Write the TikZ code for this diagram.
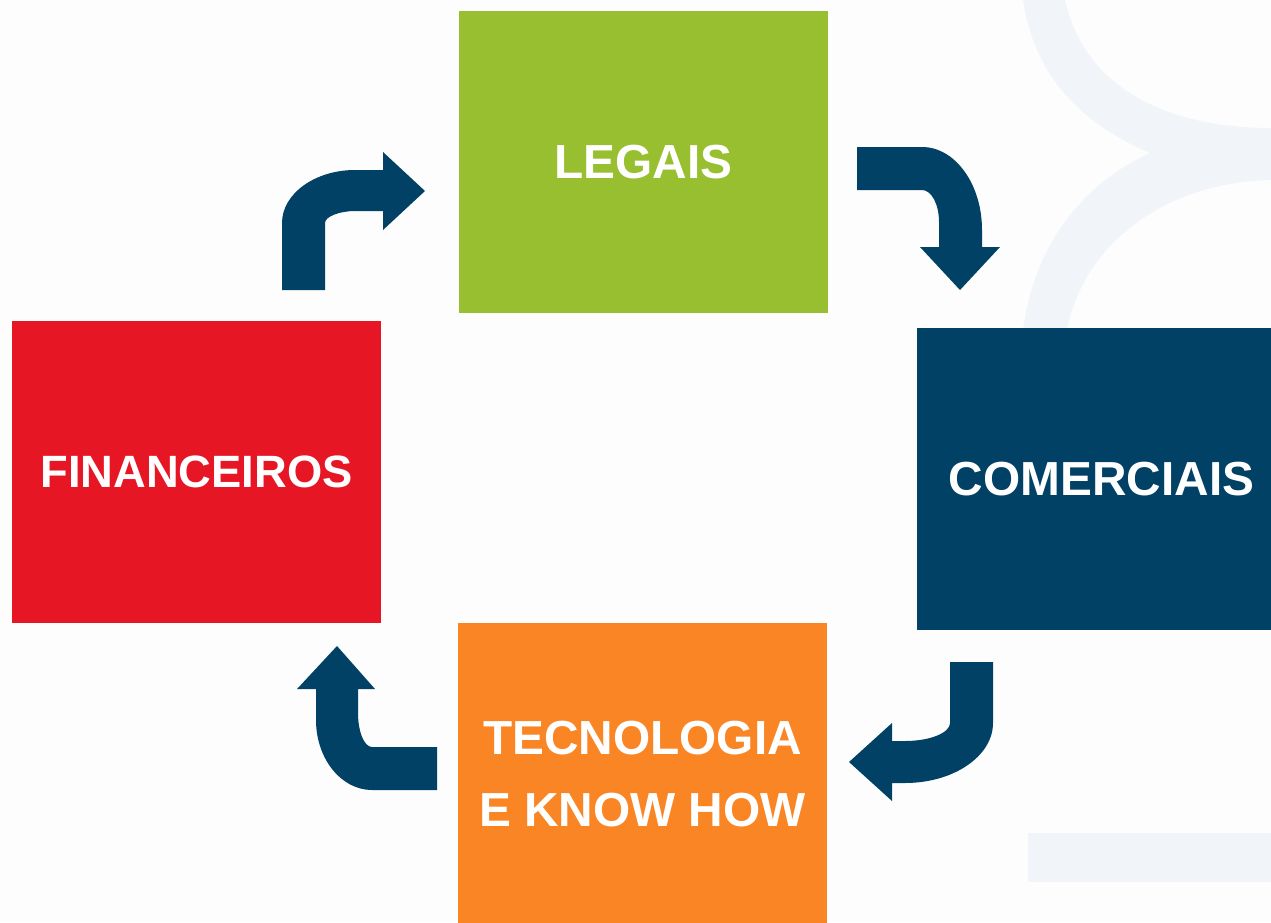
\documentclass[tikz,border=0pt]{standalone}
\usepackage{fontspec}
\setmainfont{Liberation Sans}
\definecolor{cgreen}{HTML}{97BF2F}
\definecolor{cred}{HTML}{E71624}
\definecolor{cnavy}{HTML}{004165}
\definecolor{corange}{HTML}{F98524}
\definecolor{cdecor}{HTML}{F1F5FA}
\definecolor{cbg}{HTML}{FDFDFD}
\tikzset{
  box/.style={rectangle, inner sep=0pt, minimum width=369pt, minimum height=302pt,
    text=white, font=\bfseries\fontsize{47.8}{72}\selectfont, align=center},
  blockarrow/.style={fill=cnavy, draw=none},
  decor/.style={fill=cdecor, draw=none}
}
\begin{document}
\begin{tikzpicture}[x=1pt,y=-1pt]
\useasboundingbox (0,0) rectangle (1271,922);
\clip (0,0) rectangle (1271,922);
\fill[cbg] (0,0) rectangle (1271,922);
% background decoration
\path[decor] (1023,0) -- (1065,0) .. controls (1085,90) and (1170,128) .. (1271,128)
  -- (1290,128) -- (1290,180) -- (1271,180)
  .. controls (1170,182) and (1080,240) .. (1065,340) -- (1022,340)
  .. controls (1030,250) and (1080,185) .. (1150,153)
  .. controls (1085,125) and (1035,80) .. (1023,0) -- cycle;
\path[decor] (1028,833) rectangle (1290,882);
% boxes
\node[box, fill=cgreen]  (legais) at (643.5,162) {LEGAIS};
\node[box, fill=cred, font=\bfseries\fontsize{45.3}{72}\selectfont] (fin) at (196.5,471.5) {FINANCEIROS};
\node[box, fill=cnavy]   (com) at (1101.5,479) {COMERCIAIS};
\node[box, fill=corange] (tec) at (642.5,774) {TECNOLOGIA\\E KNOW HOW};
% arrow financeiros -> legais
\path[blockarrow] (282,290) -- (282,223) .. controls (282,193.7) and (315,170) .. (355,170)
  -- (383,170) -- (383,152) -- (425,191) -- (383,230) -- (383,211) -- (355,211)
  .. controls (340,211) and (325,216.4) .. (325,223) -- (325,290) -- cycle;
% arrow legais -> comerciais
\path[blockarrow] (857,147) -- (922,147) .. controls (955,147) and (982,184) .. (982,230)
  -- (982,247) -- (1000,247) -- (960,290) -- (920,247) -- (939,247) -- (939,222)
  .. controls (939,204) and (931.4,190) .. (922,190) -- (857,190) -- cycle;
% arrow comerciais -> tecnologia
\path[blockarrow] (950,662) -- (993,662) -- (993,723) .. controls (993,756.1) and (953.6,783) .. (905,783)
  -- (892,783) -- (892,801) -- (849,762) -- (892,723) -- (892,741) -- (905,741)
  .. controls (929.8,741) and (950,732.9) .. (950,723) -- cycle;
% arrow tecnologia -> financeiros
\path[blockarrow] (337,646) -- (375,689) -- (358,689) -- (358,713)
  .. controls (358,731.8) and (364.3,747) .. (372,747) -- (437,747) -- (437,790) -- (372,790)
  .. controls (341.1,790) and (316,758.6) .. (316,720) -- (316,689) -- (297,689) -- cycle;
\end{tikzpicture}
\end{document}
